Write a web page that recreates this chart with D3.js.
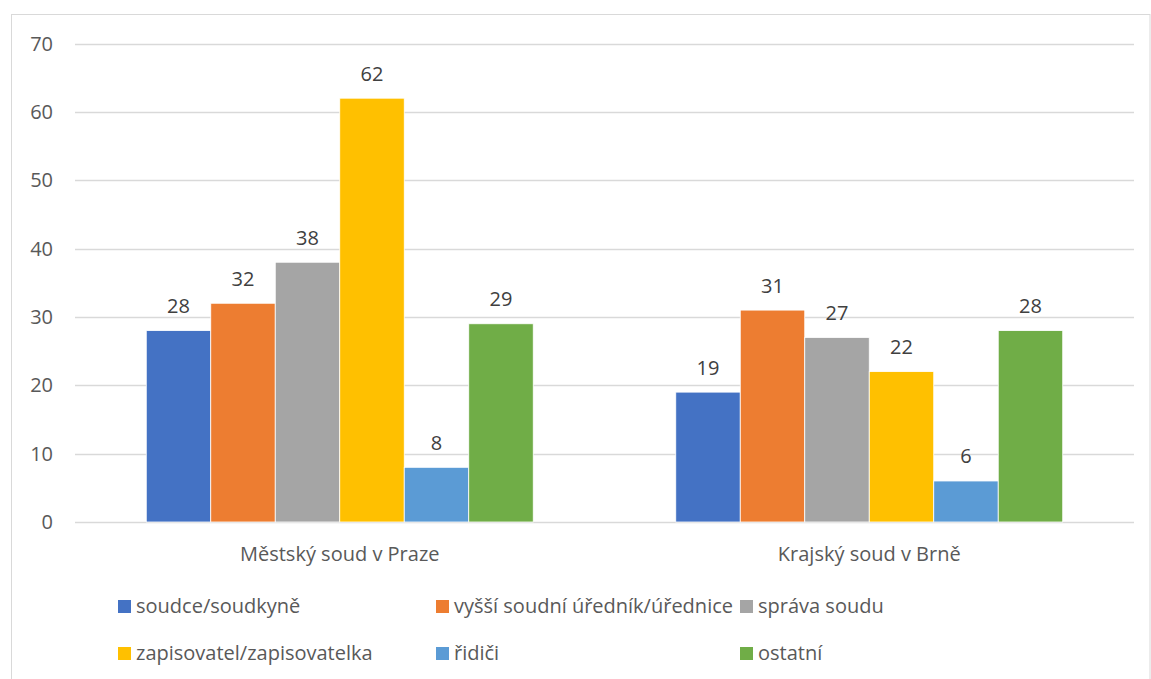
<!DOCTYPE html>
<html>
<head>
<meta charset="utf-8">
<script src="https://cdn.jsdelivr.net/npm/d3@7"></script>
<style>
  body { margin: 0; background: #fff; }
  svg text { font-family: "Open Sans", "Noto Sans", sans-serif; }
</style>
</head>
<body>
<svg id="chart" width="1151" height="679"></svg>
<script>
// data
const courts = ["Městský soud v Praze", "Krajský soud v Brně"]
const roles = ["soudce/soudkyně", "vyšší soudní úředník/úřednice", "správa soudu",
               "zapisovatel/zapisovatelka", "řidiči", "ostatní"]
const praha = [28, 32, 38, 62, 8, 29]
const brno = [19, 31, 27, 22, 6, 28]
const yTicks = [0, 10, 20, 30, 40, 50, 60, 70]

const colors = ["#4472C4", "#ED7D31", "#A5A5A5", "#FFC000", "#5B9BD5", "#70AD47"]

const PL = 75, PR = 1134, PT = 43.5, PB = 522
const FS = "20px"

const svg = d3.select("#chart")

// outer frame
svg.append("rect")
  .attr("x", 11.5).attr("y", 14.5)
  .attr("width", 1150 - 11.5).attr("height", 700)
  .attr("fill", "none")
  .attr("stroke", "#d9d9d9")

const y = d3.scaleLinear().domain([0, 70]).range([PB, PT])
const x0 = d3.scaleBand().domain(courts).range([PL, PR]).padding(0)
const x1 = d3.scaleBand().domain(roles).range([0, x0.bandwidth()])
  .paddingInner(0).paddingOuter(1.105)

// gridlines
svg.append("g").selectAll("line")
  .data(yTicks)
  .enter().append("line")
  .attr("x1", PL).attr("x2", PR)
  .attr("y1", d => Math.round(y(d)) + 0.5)
  .attr("y2", d => Math.round(y(d)) + 0.5)
  .attr("stroke", "#d9d9d9")
  .attr("stroke-width", 1.3)

// y labels
svg.append("g").selectAll("text")
  .data(yTicks)
  .enter().append("text")
  .attr("x", 53)
  .attr("y", d => y(d))
  .attr("dy", "0.36em")
  .attr("text-anchor", "end")
  .attr("font-size", FS)
  .attr("fill", "#595959")
  .text(d => d)

const table = courts.map((c, i) => ({
  court: c,
  values: roles.map((r, j) => ({ role: r, value: (i === 0 ? praha : brno)[j], k: j }))
}))

const groups = svg.append("g").selectAll("g")
  .data(table)
  .enter().append("g")
  .attr("transform", d => "translate(" + x0(d.court) + ",0)")

groups.selectAll("rect")
  .data(d => d.values)
  .enter().append("rect")
  .attr("x", d => x1(d.role))
  .attr("width", x1.bandwidth())
  .attr("y", d => y(d.value))
  .attr("height", d => PB - y(d.value))
  .attr("fill", d => colors[d.k])
  .attr("stroke", "#fff")
  .attr("stroke-width", 0.8)

groups.selectAll("text")
  .data(d => d.values)
  .enter().append("text")
  .attr("x", d => x1(d.role) + x1.bandwidth() / 2)
  .attr("y", d => y(d.value) - 17.5)
  .attr("text-anchor", "middle")
  .attr("font-size", FS)
  .attr("fill", "#404040")
  .text(d => d.value)

// category labels
svg.append("g").selectAll("text")
  .data(courts)
  .enter().append("text")
  .attr("x", d => x0(d) + x0.bandwidth() / 2)
  .attr("y", 560.5)
  .attr("text-anchor", "middle")
  .attr("font-size", FS)
  .attr("fill", "#595959")
  .text(d => d)

// legend
const legX = [118, 436, 740]
const legY = [606, 653]
const leg = svg.append("g").selectAll("g")
  .data(roles)
  .enter().append("g")
  .attr("transform", (d, i) => "translate(" + legX[i % 3] + "," + legY[Math.floor(i / 3)] + ")")

leg.append("rect")
  .attr("x", 0).attr("y", -6)
  .attr("width", 13).attr("height", 13)
  .attr("fill", (d, i) => colors[i])

leg.append("text")
  .attr("x", 18)
  .attr("y", 0)
  .attr("dy", "0.36em")
  .attr("font-size", FS)
  .attr("fill", "#595959")
  .text(d => d)
</script>
</body>
</html>
